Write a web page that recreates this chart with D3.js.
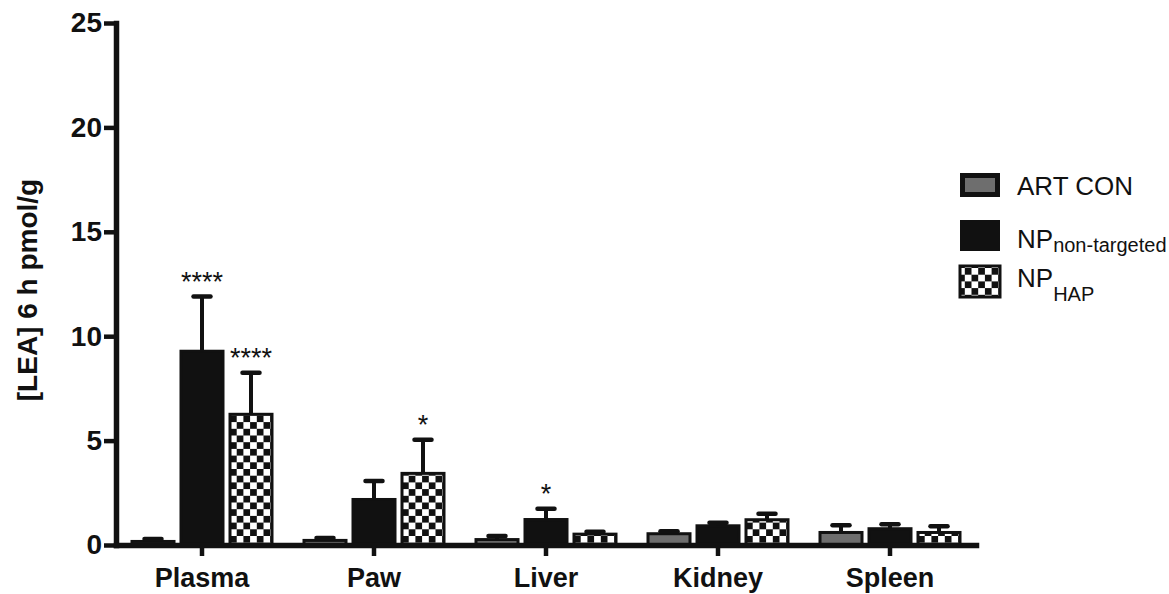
<!DOCTYPE html>
<html>
<head>
<meta charset="utf-8">
<script src="https://cdn.jsdelivr.net/npm/d3@7"></script>
<style>
  html, body { margin: 0; padding: 0; background: #fff; }
  svg { display: block; font-family: "Liberation Sans", Arial, sans-serif; }
</style>
</head>
<body>
<svg id="chart" width="1169" height="594"></svg>
<script>
const categories = ["Plasma", "Paw", "Liver", "Kidney", "Spleen"];
const series = ["art", "np", "hap"];
const yTicks = [0, 5, 10, 15, 20, 25];

const artMean = [0.17, 0.22, 0.26, 0.54, 0.6];
const artErr = [0.12, 0.12, 0.17, 0.12, 0.35];
const npMean = [9.28, 2.18, 1.22, 0.92, 0.78];
const npErr = [2.62, 0.89, 0.52, 0.15, 0.21];
const hapMean = [6.26, 3.43, 0.52, 1.21, 0.6];
const hapErr = [1.99, 1.61, 0.12, 0.29, 0.3];

const npStars = ["****", "", "*", "", ""];
const hapStars = ["****", "*", "", "", ""];
const artStars = ["", "", "", "", ""];

const legendMain = ["ART CON", "NP", "NP"];
const legendSub = ["", "non-targeted", "HAP"];

const ink = "#111";
const fills = { art: "#6e6e6e", np: ink, hap: "url(#checker)" };

const means = { art: artMean, np: npMean, hap: hapMean };
const errs = { art: artErr, np: npErr, hap: hapErr };
const stars = { art: artStars, np: npStars, hap: hapStars };

let rows = [];
series.forEach(s => {
  categories.forEach((c, i) => {
    rows.push({ cat: c, s: s, mean: means[s][i], err: errs[s][i], star: stars[s][i] });
  });
});

let svg = d3.select("#chart");

let defs = svg.append("defs");
let pat = defs.append("pattern")
  .attr("id", "checker")
  .attr("patternUnits", "userSpaceOnUse")
  .attr("width", 13.4)
  .attr("height", 13.4);
pat.append("rect").attr("width", 13.4).attr("height", 13.4).attr("fill", "#fff");
pat.append("rect").attr("width", 6.7).attr("height", 6.7).attr("fill", ink);
pat.append("rect").attr("x", 6.7).attr("y", 6.7).attr("width", 6.7).attr("height", 6.7).attr("fill", ink);

let y = d3.scaleLinear().domain([0, 25]).range([545, 23]);
let x0 = d3.scaleBand().domain(categories).range([116, 976]).padding(0);
let x1 = d3.scaleBand().domain(series).range([16, 156]).paddingInner(7 / 49).paddingOuter(0);

// bars
let bars = svg.append("g")
  .selectAll("g")
  .data(rows)
  .enter()
  .append("g")
  .attr("transform", d => `translate(${x0(d.cat) + x1(d.s)},0)`);

bars.append("rect")
  .attr("x", 0)
  .attr("y", d => y(d.mean))
  .attr("width", x1.bandwidth())
  .attr("height", d => y(0) - y(d.mean))
  .attr("fill", d => fills[d.s])
  .attr("stroke", ink)
  .attr("stroke-width", 3);

let bw = x1.bandwidth();
bars.append("line")
  .attr("x1", bw / 2)
  .attr("x2", bw / 2)
  .attr("y1", d => y(d.mean))
  .attr("y2", d => y(d.mean + d.err))
  .attr("stroke", ink)
  .attr("stroke-width", 4);

bars.append("line")
  .attr("x1", bw / 2 - 8.5)
  .attr("x2", bw / 2 + 8.5)
  .attr("y1", d => y(d.mean + d.err))
  .attr("y2", d => y(d.mean + d.err))
  .attr("stroke", ink)
  .attr("stroke-width", 4.5)
  .attr("stroke-linecap", "round");

bars.filter(d => d.star)
  .append("text")
  .attr("x", bw / 2)
  .attr("y", d => y(d.mean + d.err) - 6)
  .attr("text-anchor", "middle")
  .attr("font-size", 27)
  .attr("fill", ink)
  .text(d => d.star);

// axes
let yAxis = svg.append("g")
  .attr("transform", "translate(116,0)")
  .call(d3.axisLeft(y).tickValues(yTicks).tickSize(12).tickSizeOuter(0).tickPadding(2));

let xAxis = svg.append("g")
  .attr("transform", `translate(0,${y(0)})`)
  .call(d3.axisBottom(x0).tickSize(11).tickSizeOuter(0).tickPadding(12));

[yAxis, xAxis].forEach(a => {
  a.select(".domain").attr("stroke", ink).attr("stroke-width", 5.5).attr("stroke-linecap", "square");
  a.selectAll(".tick line").attr("stroke", ink).attr("stroke-width", 4.5);
  a.selectAll(".tick text")
    .attr("fill", ink)
    .attr("font-size", 28)
    .attr("font-weight", "bold")
    .attr("font-family", "'Liberation Sans', Arial, sans-serif");
});
xAxis.selectAll(".tick text").attr("font-size", 27);

svg.append("text")
  .attr("transform", "translate(37,290) rotate(-90)")
  .attr("text-anchor", "middle")
  .attr("font-size", 28)
  .attr("font-weight", "bold")
  .attr("fill", ink)
  .text("[LEA] 6 h pmol/g");

// legend
let boxY = [173, 220, 266];
let boxH = [24, 31, 31];
let textY = [195, 248, 287];
let subDy = [0, 4, 14];

let legend = svg.append("g")
  .selectAll("g")
  .data(series)
  .enter()
  .append("g");

legend.append("rect")
  .attr("x", (d, i) => d === "art" ? 962.5 : 960)
  .attr("y", (d, i) => d === "art" ? boxY[i] + 2.5 : boxY[i])
  .attr("width", d => d === "art" ? 35 : 40)
  .attr("height", (d, i) => d === "art" ? boxH[i] - 5 : boxH[i])
  .attr("fill", d => fills[d])
  .attr("stroke", d => d === "np" ? "none" : ink)
  .attr("stroke-width", d => d === "art" ? 5 : 3);

let lt = legend.append("text")
  .attr("x", 1017)
  .attr("y", (d, i) => textY[i])
  .attr("font-size", 26)
  .attr("fill", ink);

lt.append("tspan").text((d, i) => legendMain[i]);
lt.append("tspan")
  .attr("font-size", 20)
  .attr("dy", (d, i) => subDy[i])
  .text((d, i) => legendSub[i]);
</script>
</body>
</html>
